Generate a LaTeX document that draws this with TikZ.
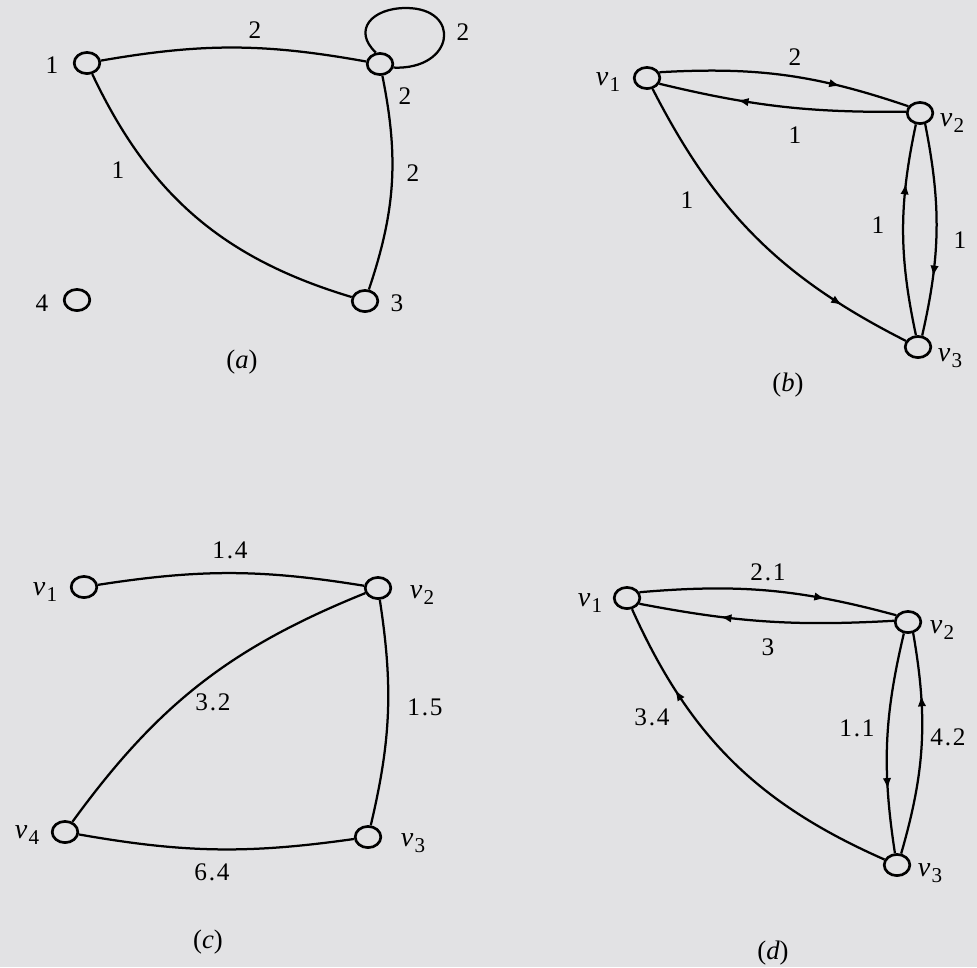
\documentclass[tikz,border=0pt]{standalone}
\usepackage{fontspec}
\setmainfont{Liberation Serif}
\newfontfamily\lblfam[LetterSpace=7]{Liberation Serif}
\usetikzlibrary{shapes.geometric,arrows.meta,decorations.markings}
\definecolor{bgcol}{RGB}{226,226,228}
\newcommand{\lbfont}{\lblfam\fontsize{18}{21}\selectfont}
\newcommand{\capfont}{\rmfamily\fontsize{19}{22}\selectfont}
\newcommand{\vlab}[1]{{\rmfamily\fontsize{20}{22}\selectfont\textit{v}}\kern1pt\raisebox{-0.55ex}{\rmfamily\fontsize{15}{16}\selectfont #1}}
\tikzset{
  vtx/.style={draw, ellipse, minimum width=0.64cm, minimum height=0.53cm, inner sep=0pt, line width=1.9pt},
  edg/.style={line width=1.6pt},
  lbl/.style={font=\lbfont, inner sep=0pt},
  captxt/.style={font=\capfont, inner sep=0pt},
  midarr/.style={postaction={decorate, decoration={markings, mark=at position #1 with {\arrow{Latex[length=8pt,width=6pt]}}}}}
}
\begin{document}
\begin{tikzpicture}[x=0.025cm, y=0.025cm]
\fill[bgcol] (0,0) rectangle (977,-967);
\useasboundingbox (0,0) rectangle (977,-967);

% ---------- (a)
\node[vtx] (a1) at (87,-63) {};
\node[vtx] (a2) at (380,-64) {};
\node[vtx] (a3) at (365,-301) {};
\node[vtx] (a4) at (77,-300) {};
\coordinate (atop) at (406,-8);
\draw[edg] (a1) to[bend left=10] (a2);
\draw[edg] (a2) to[bend left=15] (a3);
\draw[edg] (a1) to[bend right=24] (a3);
\draw[edg] (a2.110) .. controls (352,-30) and (372,-8) .. (atop) .. controls (462,-8) and (455,-70) .. (a2.-15);
\node[lbl] (la1) at (52,-65) {1};
\node[lbl] (la4) at (42,-303) {4};
\node[lbl] (la3) at (397,-303) {3};
\node[lbl] (le12) at (255,-30) {2};
\node[lbl] (lloop) at (463,-32) {2};
\node[lbl] (lx) at (405,-96) {2};
\node[lbl] (le23) at (413,-173) {2};
\node[lbl] (le13) at (118,-170) {1};
\node[captxt] (capa) at (242,-362) {(\textit{a})};

% ---------- (b)
\node[vtx] (b1) at (647,-78) {};
\node[vtx] (b2) at (920,-113) {};
\node[vtx] (b3) at (918,-347) {};
\draw[edg, midarr=0.72] (b1.25) to[bend left=11] (b2.150);
\draw[edg, midarr=0.68] (b2.175) to[bend left=7] (b1.-25);
\draw[edg, midarr=0.8] (b1) to[bend right=18] (b3);
\draw[edg, midarr=0.72] (b3.100) to[bend left=12] (b2.-110);
\draw[edg, midarr=0.72] (b2.-65) to[bend left=12] (b3.70);
\node[lbl] (lb1) at (608,-82) {\vlab{1}};
\node[lbl] (lb2) at (952,-123) {\vlab{2}};
\node[lbl] (lb3) at (950,-358) {\vlab{3}};
\node[lbl] (lb12) at (795,-57) {2};
\node[lbl] (lb21) at (795,-135) {1};
\node[lbl] (lb13) at (687,-200) {1};
\node[lbl] (lb32) at (878,-225) {1};
\node[lbl] (lb23) at (960,-240) {1};
\node[captxt] (capb) at (788,-385) {(\textit{b})};

% ---------- (c)
\node[vtx] (c1) at (84,-587) {};
\node[vtx] (c2) at (378,-588) {};
\node[vtx] (c3) at (368,-837) {};
\node[vtx] (c4) at (65,-832) {};
\draw[edg] (c1) to[bend left=9] (c2);
\draw[edg] (c2) to[bend right=16] (c4);
\draw[edg] (c2) to[bend left=11] (c3);
\draw[edg] (c4) to[bend right=9] (c3);
\node[lbl] (lc1) at (45,-592) {\vlab{1}};
\node[lbl] (lc2) at (422,-595) {\vlab{2}};
\node[lbl] (lc3) at (413,-843) {\vlab{3}};
\node[lbl] (lc4) at (27,-835) {\vlab{4}};
\node[lbl] (lc12) at (230,-550) {1.4};
\node[lbl] (lc24) at (213,-702) {3.2};
\node[lbl] (lc23) at (425,-707) {1.5};
\node[lbl] (lc43) at (212,-872) {6.4};
\node[captxt] (capc) at (208,-942) {(\textit{c})};

% ---------- (d)
\node[vtx] (d1) at (627,-598) {};
\node[vtx] (d2) at (908,-622) {};
\node[vtx] (d3) at (897,-865) {};
\draw[edg, midarr=0.72] (d1.25) to[bend left=10] (d2.150);
\draw[edg, midarr=0.68] (d2.175) to[bend left=7] (d1.-25);
\draw[edg, midarr=0.75] (d3) to[bend left=21] (d1);
\draw[edg, midarr=0.71] (d2.-110) to[bend right=11] (d3.100);
\draw[edg, midarr=0.72] (d3.70) to[bend right=13] (d2.-65);
\node[lbl] (ld1) at (590,-603) {\vlab{1}};
\node[lbl] (ld2) at (942,-630) {\vlab{2}};
\node[lbl] (ld3) at (930,-873) {\vlab{3}};
\node[lbl] (ld12) at (768,-572) {2.1};
\node[lbl] (ld21) at (768,-647) {3};
\node[lbl] (ld31) at (652,-717) {3.4};
\node[lbl] (ld23) at (857,-728) {1.1};
\node[lbl] (ld32) at (948,-737) {4.2};
\node[captxt] (capd) at (773,-953) {(\textit{d})};
\end{tikzpicture}
\end{document}
